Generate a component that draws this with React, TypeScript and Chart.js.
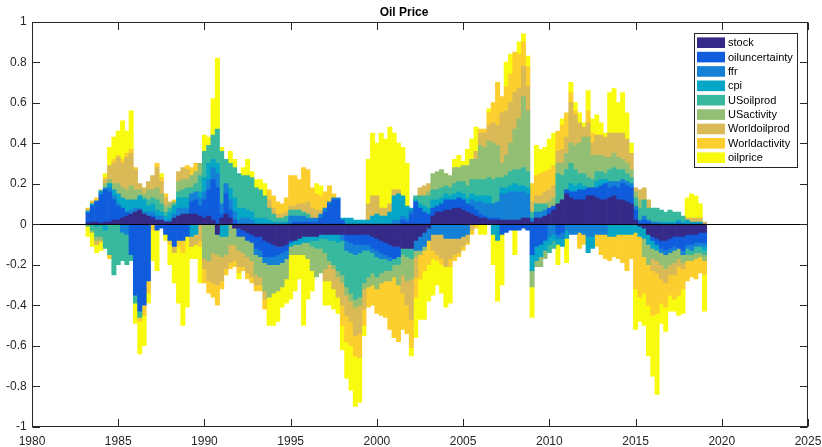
import React, { useEffect, useRef } from 'react';
import { Chart, registerables } from 'chart.js';

Chart.register(...registerables);

const chartTitle = 'Oil Price';
const seriesNames = ['stock', 'oiluncertainty', 'ffr', 'cpi', 'USoilprod', 'USactivity', 'Worldoilprod', 'Worldactivity', 'oilprice'];
const seriesColors = ['#352a87', '#0f5cdd', '#1481d6', '#06a7c6', '#38b99e', '#92bf73', '#d9ba56', '#fcce2e', '#f9fb0e'];
const xTickValues = [1980, 1985, 1990, 1995, 2000, 2005, 2010, 2015, 2020, 2025];
const yTickValues = [-1, -0.8, -0.6, -0.4, -0.2, 0, 0.2, 0.4, 0.6, 0.8, 1];
const firstQuarter = 1983.25;
const quarterStep = 0.25;

// quarterly contributions, 1983Q2 .. 2019Q1 (one line per year)
const stock = [
  .005, .01, .01,
  .005, .01, .01, .02,
  .02, .03, .04, .05,
  .06, .07, .05, .04,
  .03, .02, .02, .01,
  .01, .03, .04, .05,
  .05, .05, .05, .04,
  .03, .04, .02, -.05,
  .03, .05, .03, -.02,
  -.02, -.03, -.04, -.05,
  -.06, -.06, -.08, -.09,
  -.10, -.11, -.11, -.10,
  -.08, -.08, -.07, -.06,
  -.06, -.06, -.06, -.05,
  -.05, -.05, -.05, -.05,
  -.05, -.05, -.05, -.05,
  -.05, -.05, -.05, -.06,
  -.07, -.08, -.09, -.10,
  -.11, -.11, -.12, -.12,
  -.12, -.08, -.06, -.04,
  -.02, .04, .06, .06,
  .07, .07, .08, .08,
  .07, .06, .05, .04,
  .03, .03, .02, .02,
  .02, .02, .02, .02,
  .02, .02, .03, .03,
  .01, .03, .03, .04,
  .05, .07, .10, .12,
  .15, .13, .12, .12,
  .12, .14, .14, .13,
  .12, .12, .13, .14,
  .12, .12, .11, .10,
  .02, -.01, -.02, -.05,
  -.06, -.07, -.08, -.08,
  -.07, -.06, -.06, -.06,
  -.05, -.05, -.05, -.04,
  -.04,
];
const oiluncertainty = [
  .05, .08, .10,
  .14, .16, .15, .10,
  .07, .05, .02, -.15,
  -.35, -.43, -.40, -.28,
  .01, -.03, -.02, -.05,
  -.08, -.11, -.08, -.08,
  -.06, .06, .07, .05,
  .09, .13, .20, .18,
  .02, .10, .04, .02,
  -.04, -.03, -.04, -.04,
  -.06, -.07, -.08, -.07,
  -.06, -.04, -.03, -.03,
  -.01, .01, .01, .01,
  .01, .01, .01, .03,
  .06, .10, .12, .12,
  .02, -.03, -.04, -.05,
  -.05, -.05, -.05, -.06,
  -.06, -.06, -.06, -.06,
  -.06, -.05, .02, .01,
  .05, .11, .08, .06,
  .05, .04, .03, .04,
  .05, .05, .04, .05,
  .05, .04, .04, .03,
  .02, .01, .01, .01,
  .01, -.05, -.04, -.03,
  -.03, -.03, -.02, -.03,
  -.15, -.11, -.10, -.08,
  .03, .02, -.05, -.04,
  .02, .03, .04, .05,
  .05, .04, .04, .05,
  .07, .08, .05, .05,
  .06, .08, .08, .08,
  .05, .01, .02, .01,
  -.02, -.03, -.04, -.05,
  -.05, -.05, -.06, -.07,
  -.05, -.05, -.04, -.05,
  -.05,
];
const ffr = [
  .005, .005, .005,
  .01, .01, .02, .02,
  .01, -.04, -.05, .02,
  .02, .01, .01, .02,
  .02, .02, .02, .01,
  .01, .02, .04, .03,
  .03, .04, .04, .04,
  .04, .05, .06, .07,
  .05, .05, .05, .04,
  .02, .03, .03, .02,
  -.03, -.03, -.03, -.04,
  -.04, -.05, -.05, -.04,
  .04, .03, .03, .03,
  .02, .02, .02, .02,
  .02, .01, .01, .01,
  -.03, -.05, -.05, -.05,
  -.04, -.03, -.03, -.02,
  -.03, -.03, -.02, -.02,
  .02, .02, .02, .02,
  .02, -.05, -.07, -.07,
  -.06, -.05, -.05, -.05,
  -.07, -.07, -.07, -.07,
  -.06, -.05, .03, .04,
  .06, .06, .07, .07,
  .08, .13, .13, .14,
  .14, .14, .13, .12,
  .02, .03, .03, .03,
  -.06, -.05, -.02, -.03,
  -.03, -.05, -.05, -.04,
  -.05, -.06, -.06, -.05,
  -.05, -.05, .03, .02,
  .03, .02, .02, .02,
  .02, .01, .02, .01,
  .01, .01, -.02, -.02,
  -.02, -.02, .01, -.02,
  -.02, -.03, -.02, -.02,
  -.02,
];
const cpi = [
  .005, .005, -.01,
  .01, -.03, .02, .03,
  .05, .05, .06, .05,
  .04, .06, .06, .03,
  .04, .03, .02, .02,
  .04, .04, .05, .05,
  .05, -.06, -.05, .03,
  .07, .08, .04, .05,
  -.06, -.06, .06, .07,
  .06, .05, .04, .04,
  .03, .03, .03, .02,
  .01, .01, .01, .01,
  -.02, -.02, -.03, -.03,
  -.03, -.02, -.02, -.02,
  -.02, -.03, -.03, -.04,
  .01, .03, .03, .02,
  .02, .02, .02, .04,
  .05, .04, .04, .06,
  .12, .13, .10, .06,
  .01, .01, .02, .03,
  .03, .04, .03, .03,
  .03, .02, .03, .03,
  .03, .03, .03, .03,
  .03, .04, .04, -.05,
  -.08, .03, .03, .03,
  .04, .03, .03, .03,
  -.08, -.07, -.06, -.05,
  -.04, -.03, -.03, -.04,
  -.04, .04, .03, .03,
  .02, -.08, -.06, .03,
  .03, .02, -.06, -.06,
  -.05, -.05, -.05, -.05,
  -.04, -.05, -.05, -.05,
  -.04, -.03, .01, .01,
  .01, .01, .01, .01,
  .02, .01, .01, .01,
  -.02,
];
const USoilprod = [
  -.01, -.03, -.05,
  -.06, -.09, -.15, -.25,
  -.20, -.14, -.15, -.03,
  -.04, -.03, .01, .03,
  .03, .05, .04, .02,
  .02, .01, .03, .04,
  .05, .03, .04, .08,
  .13, .09, .12, .17,
  .26, .12, .12, .15,
  .17, .16, .17, .17,
  .15, .14, .11, .06,
  .04, .02, .02, .03,
  .03, .03, .03, .02,
  .02, -.03, -.04, -.05,
  -.07, -.10, -.12, -.14,
  -.17, -.18, -.20, -.22,
  -.22, -.16, -.13, -.10,
  -.10, -.07, -.06, -.05,
  -.03, -.04, -.03, -.04,
  -.05, .02, .04, .05,
  .06, .05, .05, .05,
  .04, .04, .05, .05,
  .06, .06, .07, .08,
  .08, .08, .09, .12,
  .12, .05, .06, .07,
  .07, .08, .09, .08,
  .03, .04, .04, .03,
  -.04, -.04, .15, .12,
  .10, .10, .08, .05,
  .06, .05, .04, .05,
  .04, .03, .06, .07,
  .06, .05, .04, .03,
  .04, .06, .08, .06,
  .07, .07, .06, .05,
  .06, .05, .04, .03,
  -.03, -.02, -.03, -.03,
  -.02,
];
const USactivity = [
  0, -.01, -.02,
  -.02, .02, .02, .03,
  .05, .05, .05, .07,
  .05, .03, .02, .05,
  .04, .06, .05, .03,
  .02, .01, .05, .05,
  .04, .06, .06, .06,
  -.17, -.18, -.14, -.10,
  -.10, -.09, -.10, -.08,
  -.07, -.08, -.08, -.09,
  -.10, -.10, -.14, -.16,
  -.14, -.13, -.12, -.10,
  -.04, -.05, -.05, -.06,
  -.08, -.12, -.14, -.12,
  -.08, -.02, -.02, -.03,
  -.04, -.04, -.04, -.04,
  -.04, -.03, -.05, -.06,
  -.06, -.05, -.05, -.05,
  -.06, -.10, -.10, -.12,
  -.10, -.03, -.02, -.02,
  .02, .08, .09, .09,
  .06, .06, .08, .07,
  .08, .10, .10, .10,
  .17, .16, .18, .18,
  .16, .07, .10, .14,
  .20, .25, .35, .30,
  -.08, -.03, -.05, -.04,
  .03, .04, .05, .06,
  .08, .10, .12, .15,
  .18, .20, .12, .08,
  .08, .08, .06, .07,
  .06, .05, .05, .04,
  .03, .04, -.09, -.10,
  -.05, -.05, -.06, -.07,
  -.06, -.06, -.05, -.04,
  -.03, -.03, -.03, -.02,
  -.03,
];
const Worldoilprod = [
  .01, .01, -.02,
  .005, .02, .07, .10,
  .13, .12, .16, .16,
  .10, .03, .03, .04,
  .07, .10, .06, .04,
  .01, -.03, .05, .06,
  .05, -.05, -.05, -.08,
  -.05, -.10, -.15, -.15,
  -.12, -.07, -.09, -.08,
  -.08, -.07, -.08, -.08,
  -.05, -.04, -.04, .04,
  .03, .02, .02, .02,
  .02, .02, .03, .04,
  .06, .05, .04, .02,
  -.06, -.08, -.10, -.10,
  -.11, -.10, -.10, -.14,
  -.14, -.10, .08, .10,
  .09, .04, .04, .04,
  .03, .02, -.09, -.12,
  -.20, -.10, .04, .05,
  .04, -.08, -.10, -.12,
  -.14, -.10, -.08, -.07,
  -.05, -.04, -.03, .04,
  .06, .07, .08, .10,
  .10, .25, .22, .20,
  .18, .15, .15, .12,
  .05, .04, .04, .06,
  .06, .06, .06, .07,
  .08, .20, .15, .10,
  .05, .07, .06, .10,
  .10, .10, .12, .10,
  .12, .13, .12, .08,
  .02, .05, .06, .04,
  -.06, -.06, -.07, -.07,
  -.05, -.06, -.04, -.03,
  .01, .02, .02, .02,
  .01,
];
const Worldactivity = [
  .005, .005, .015,
  -.01, .01, -.02, .02,
  .01, .02, .02, .02,
  .01, -.02, -.05, -.06,
  -.03, .02, .02, .02,
  -.02, .01, -.03, -.06,
  .02, .04, .04, -.03,
  -.07, -.06, -.07, -.10,
  -.04, -.03, -.03, -.03,
  -.03, -.02, -.03, -.03,
  -.03, -.03, -.05, .05,
  .06, .06, .05, .07,
  .15, .15, .12, .18,
  .16, .10, .08, .07,
  .08, .08, .02, 0,
  -.10, -.13, -.12, -.10,
  -.12, -.08, -.10, -.10,
  -.12, -.16, -.18, -.24,
  -.30, -.28, -.18, -.14,
  -.14, -.10, -.12, -.10,
  -.12, -.04, -.03, -.03,
  0, -.04, -.03, -.02,
  -.02, -.01, -.02, -.02,
  .02, .02, .06, .10,
  .21, .08, .12, .14,
  .20, .17, .12, .10,
  .09, .10, .11, .10,
  .10, .10, .10, .12,
  .12, .05, .02, -.08,
  -.05, .06, .05, -.06,
  -.10, -.12, -.12, -.10,
  -.12, -.14, -.18, -.12,
  -.28, -.30, -.18, -.20,
  -.22, -.20, -.12, -.12,
  -.10, -.12, -.14, -.10,
  -.10, -.08, -.10, -.08,
  -.07,
];
const oilprice = [
  -.05, -.07, -.04,
  -.04, .02, .09, .11,
  .12, .19, .11, .19,
  -.10, -.16, -.15, -.05,
  -.15, -.20, .02, -.03,
  -.10, -.15, -.28, -.36,
  -.35, -.06, -.07, -.18,
  .08, .04, .18, .35,
  .02, 0, .06, .04,
  -.03, .04, .08, .03,
  .04, .05, .06, -.14,
  -.16, -.15, -.10, -.12,
  -.22, -.18, -.12, -.35,
  -.20, -.10, .05, .05,
  -.12, -.12, -.10, -.08,
  -.12, -.18, -.22, -.25,
  -.22, -.05, .22, .31,
  .26, .37, .34, .38,
  .28, .23, .24, .21,
  -.04, -.20, -.20, -.24,
  -.18, -.18, -.12, -.14,
  -.20, -.18, .04, .06,
  .02, .08, .10, .12,
  -.05, -.05, .02, -.15,
  -.30, -.25, .12, .10,
  -.12, .06, .04, .05,
  -.15, .15, .12, .12,
  .15, .16, -.10, .03,
  -.12, .05, .04, .05,
  .02, .10, .07, .10,
  .06, .02, .20, .22,
  .15, .20, .13, .05,
  -.20, -.12, -.16, -.25,
  -.30, -.40, -.10, -.12,
  -.08, -.06, -.10, -.12,
  .10, .12, .11, .07,
  -.18,
];

const seriesValues = [stock, oiluncertainty, ffr, cpi, USoilprod, USactivity, Worldoilprod, Worldactivity, oilprice];

const FONT = "'Liberation Sans', Arial, Helvetica, sans-serif";
const AXIS_COLOR = '#262626';

const matlabPlugin = {
  id: 'matlabFrame',
  afterDatasetsDraw(chart: any) {
    const { ctx, chartArea, scales } = chart;
    const { left, right, top, bottom } = chartArea;
    const xs = scales.x;
    const ys = scales.y;
    ctx.save();
    // baseline at zero
    const y0 = Math.round(ys.getPixelForValue(0)) + 0.5;
    ctx.strokeStyle = '#000000';
    ctx.lineWidth = 1;
    ctx.beginPath();
    ctx.moveTo(left, y0);
    ctx.lineTo(right, y0);
    ctx.stroke();
    // box
    ctx.strokeStyle = AXIS_COLOR;
    ctx.lineWidth = 1;
    const L = Math.round(left) + 0.5;
    const R = Math.round(right) - 0.5;
    const T = Math.round(top) + 0.5;
    const B = Math.round(bottom) - 0.5;
    ctx.strokeRect(L, T, R - L, B - T);
    const tl = 7.5;
    ctx.beginPath();
    xTickValues.forEach((v) => {
      const px = Math.round(xs.getPixelForValue(v)) + 0.5;
      ctx.moveTo(px, B);
      ctx.lineTo(px, B - tl);
      ctx.moveTo(px, T);
      ctx.lineTo(px, T + tl);
    });
    yTickValues.forEach((v) => {
      const py = Math.round(ys.getPixelForValue(v)) + 0.5;
      ctx.moveTo(L, py);
      ctx.lineTo(L + tl, py);
      ctx.moveTo(R, py);
      ctx.lineTo(R - tl, py);
    });
    ctx.stroke();
    // legend
    const bx = 694.5, by = 33.5, bw = 103, bh = 134;
    ctx.fillStyle = '#ffffff';
    ctx.fillRect(bx, by, bw, bh);
    ctx.strokeStyle = AXIS_COLOR;
    ctx.strokeRect(bx, by, bw, bh);
    ctx.font = `11px ${FONT}`;
    ctx.textBaseline = 'middle';
    ctx.textAlign = 'left';
    seriesNames.forEach((name, i) => {
      const cy = 42.7 + i * 14.375;
      ctx.fillStyle = seriesColors[i];
      ctx.fillRect(697, cy - 5.3, 28, 10.6);
      ctx.fillStyle = '#000000';
      ctx.fillText(name, 728, cy + 0.5);
    });
    ctx.restore();
  },
};

export default function App() {
  const canvasRef = useRef<HTMLCanvasElement | null>(null);

  useEffect(() => {
    if (!canvasRef.current) return;
    const quarters = stock.map((_, i) => firstQuarter + i * quarterStep);
    const datasets = seriesNames.map((name, k) => ({
      label: name,
      data: seriesValues[k].map((v, i) => ({ x: quarters[i], y: v })),
      backgroundColor: seriesColors[k],
      borderWidth: 0,
      barPercentage: 1,
      categoryPercentage: 1,
      stack: 'all',
    }));
    const chart = new Chart(canvasRef.current, {
      type: 'bar',
      data: { datasets },
      options: {
        animation: false,
        responsive: false,
        maintainAspectRatio: false,
        layout: { padding: { left: 0, right: 14, top: 0, bottom: 0 } },
        plugins: {
          legend: { display: false },
          tooltip: { enabled: false },
          title: {
            display: true,
            text: chartTitle,
            color: '#000000',
            font: { family: FONT, size: 12, weight: 'bold' },
            padding: { top: 5.3, bottom: 2 },
          },
        },
        scales: {
          x: {
            type: 'linear',
            stacked: true,
            offset: false,
            min: 1980,
            max: 2025,
            afterBuildTicks: (scale: any) => {
              scale.ticks = xTickValues.map((v) => ({ value: v }));
            },
            afterFit: (scale: any) => {
              scale.height = 20.3;
              scale.paddingLeft = 0;
              scale.paddingRight = 0;
            },
            grid: { display: false, drawTicks: false },
            border: { display: false },
            ticks: {
              padding: 7.5,
              color: AXIS_COLOR,
              font: { family: FONT, size: 12 },
              maxRotation: 0,
              autoSkip: false,
              callback: (v: any) => String(v),
            },
          },
          y: {
            type: 'linear',
            stacked: true,
            min: -1,
            max: 1,
            afterBuildTicks: (scale: any) => {
              scale.ticks = yTickValues.map((v) => ({ value: v }));
            },
            afterFit: (scale: any) => {
              scale.width = 32;
              scale.paddingTop = 0;
              scale.paddingBottom = 0;
            },
            grid: { display: false, drawTicks: false },
            border: { display: false },
            ticks: {
              padding: 5.3,
              color: AXIS_COLOR,
              font: { family: FONT, size: 12 },
              autoSkip: false,
              callback: (v: any) => String(Math.round(Number(v) * 10) / 10),
            },
          },
        },
      },
      plugins: [matlabPlugin],
    } as any);
    return () => chart.destroy();
  }, []);

  return (
    <div style={{ position: 'fixed', left: 0, top: 0, width: 822, height: 447, background: '#ffffff' }}>
      <canvas ref={canvasRef} width={822} height={447} style={{ display: 'block', width: 822, height: 447 }} />
    </div>
  );
}
